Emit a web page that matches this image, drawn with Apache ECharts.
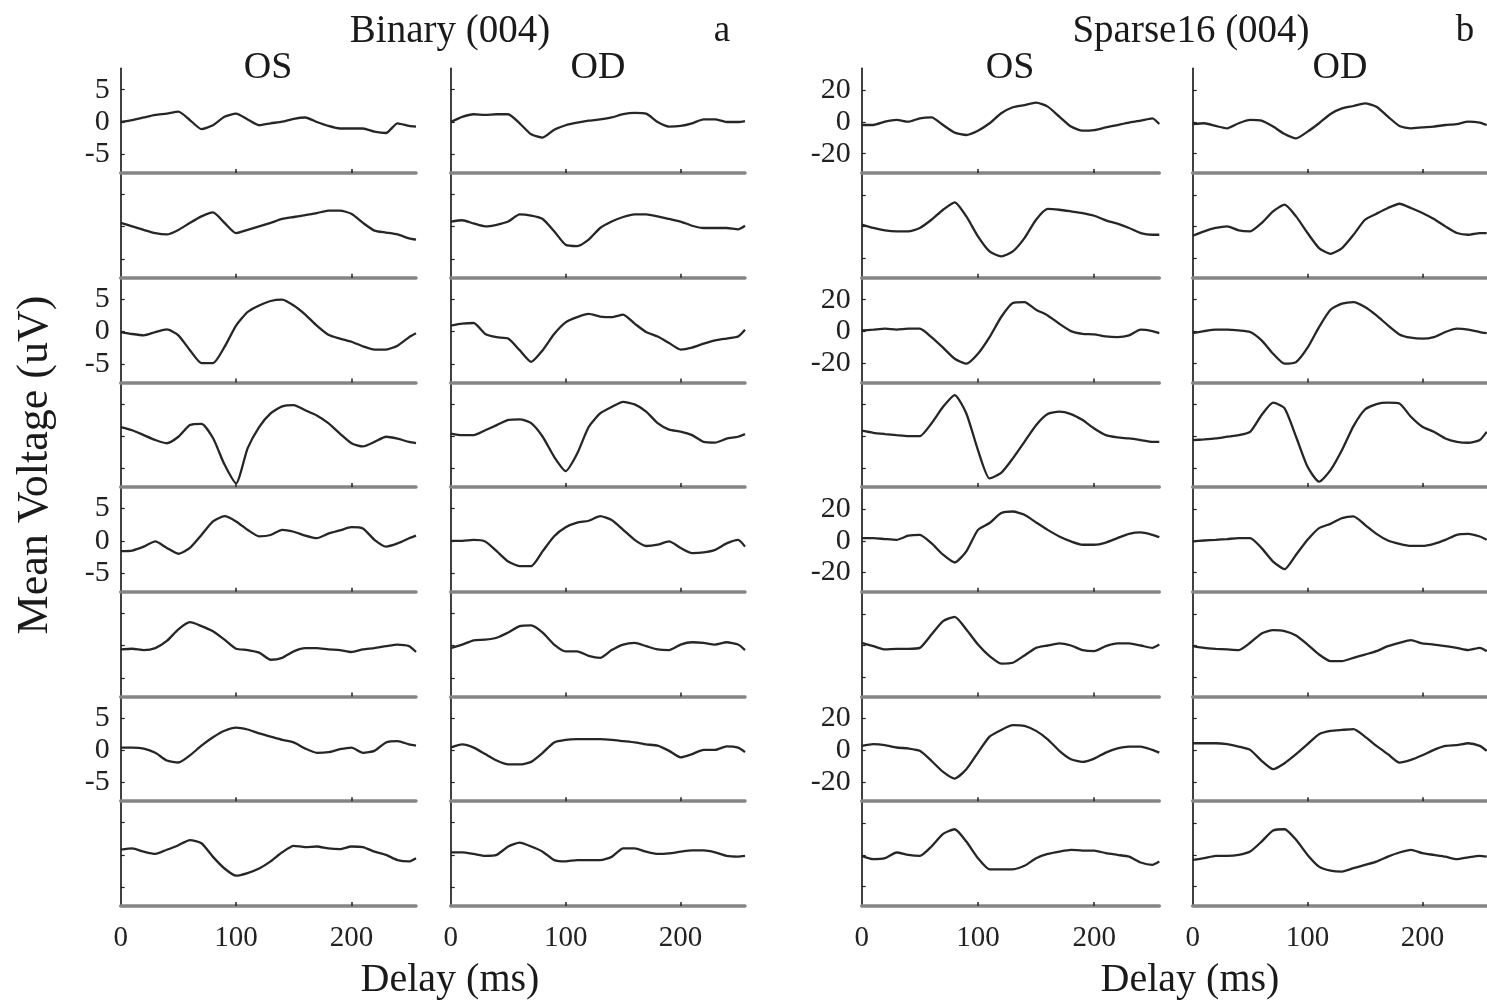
<!DOCTYPE html>
<html>
<head>
<meta charset="utf-8">
<script src="https://cdn.jsdelivr.net/npm/echarts@6/dist/echarts.min.js"></script>
<style>
html, body { margin: 0; padding: 0; background: #fff; }
#chart { width: 1487px; height: 1003px; }
</style>
</head>
<body>
<div id="chart"></div>
<script>
// delay (ms) sample points shared by every trace
var delays = [0, 10, 20, 30, 40, 50, 60, 70, 80, 90, 100, 110, 120, 130, 140, 150, 160, 170, 180, 190, 200, 210, 220, 230, 240, 250, 256];

// Binary (004) - mean voltage, uV, rows top to bottom
var binaryOS = [
	[0, 0.3, 0.7, 1.1, 1.3, 1.6, 0.3, -1.1, -0.5, 0.8, 1.3, 0.4, -0.5, -0.2, 0.05, 0.5, 0.7, 0, -0.6, -1.0, -1.0, -1.0, -1.5, -1.7, -0.2, -0.6, -0.7],
	[0.6, 0.05, -0.5, -1.0, -1.2, -0.5, 0.6, 1.6, 2.2, 0.6, -1.0, -0.5, 0.05, 0.6, 1.2, 1.5, 1.8, 2.1, 2.5, 2.5, 2.0, 0.6, -0.6, -0.9, -1.2, -1.8, -2.0],
	[-0.1, -0.4, -0.6, -0.1, 0.3, -0.6, -2.9, -4.9, -4.9, -2.4, 0.9, 3.0, 4.0, 4.7, 4.9, 4.0, 2.6, 0.9, -0.5, -1.1, -1.6, -2.3, -2.8, -2.8, -2.2, -0.9, -0.3],
	[1.4, 0.9, 0.15, -0.6, -1.1, -0.1, 1.7, 1.9, -0.3, -4.4, -7.3, -1.9, 1.4, 3.5, 4.6, 4.8, 4.0, 3.2, 2.0, 0.4, -1.1, -1.6, -0.9, -0.1, -0.4, -0.9, -1.1],
	[-1.6, -1.5, -0.9, -0.1, -1.1, -2.0, -1.1, 0.9, 3.0, 3.8, 3.0, 1.7, 0.7, 0.9, 1.7, 1.4, 0.8, 0.4, 1.1, 1.6, 2.1, 1.9, 0.15, -0.9, -0.4, 0.4, 0.8],
	[-0.6, -0.5, -0.7, -0.4, 0.7, 2.5, 3.6, 3.0, 2.2, 0.9, -0.5, -0.7, -1.1, -2.2, -1.9, -0.9, -0.4, -0.4, -0.6, -0.7, -1.0, -0.6, -0.4, -0.1, 0.15, -0.1, -1.0],
	[0.4, 0.4, 0.25, -0.4, -1.6, -1.9, -0.8, 0.7, 2.0, 3.0, 3.5, 3.2, 2.6, 2.1, 1.6, 1.2, 0.25, -0.4, -0.3, 0.15, 0.4, -0.4, -0.1, 1.2, 1.4, 0.9, 0.7],
	[0.8, 1.0, 0.5, 0.15, 0.8, 1.5, 2.3, 1.8, -0.3, -2.1, -3.2, -2.8, -2.1, -1.0, 0.4, 1.4, 1.2, 1.3, 1.0, 0.9, 1.3, 1.2, 0.5, 0, -0.8, -1.0, -0.5]
];
var binaryOD = [
	[0, 0.8, 1.2, 1.1, 1.2, 1.2, -0.2, -1.9, -2.4, -1.2, -0.5, -0.1, 0.2, 0.4, 0.7, 1.2, 1.4, 1.3, 0, -0.7, -0.6, -0.2, 0.4, 0.4, 0, 0, 0.15],
	[0.8, 1.0, 0.5, 0.05, 0.3, 0.8, 1.9, 1.7, 1.2, -0.7, -2.8, -3.0, -2.0, -0.2, 0.8, 1.5, 1.9, 1.9, 1.6, 1.2, 0.8, 0.15, -0.2, -0.2, -0.2, -0.4, 0.15],
	[0.9, 1.2, 1.3, -0.4, -0.9, -1.1, -2.9, -4.7, -2.9, -0.4, 1.4, 2.2, 2.7, 2.3, 2.2, 2.6, 1.2, -0.1, -0.8, -1.8, -2.8, -2.5, -1.9, -1.4, -1.1, -0.8, 0.25],
	[0.4, 0.15, 0.15, 0.9, 1.7, 2.5, 2.6, 2.0, -0.1, -3.2, -5.4, -2.7, 1.4, 3.5, 4.5, 5.3, 4.9, 3.8, 2.0, 1.0, 0.7, 0.15, -0.9, -1.0, -0.4, -0.1, 0.3],
	[0, 0, 0.15, -0.1, -1.6, -3.2, -3.9, -3.9, -1.6, 0.7, 2.1, 2.8, 3.1, 3.8, 3.2, 1.7, 0.15, -0.8, -0.6, -0.1, -1.1, -1.9, -1.8, -1.4, -0.4, 0.15, -0.9],
	[-0.4, 0.15, 0.8, 0.9, 1.2, 2.0, 3.0, 3.1, 2.0, 0.15, -0.9, -0.9, -1.6, -1.9, -0.7, 0.15, 0.4, -0.1, -0.6, -0.7, 0.15, 0.5, 0.4, 0.15, 0.5, 0.15, -0.7],
	[0.4, 0.9, 0.4, -0.6, -1.6, -2.2, -2.2, -1.8, -0.4, 1.2, 1.6, 1.7, 1.7, 1.7, 1.6, 1.4, 1.2, 0.9, 0.7, -0.1, -1.1, -0.6, 0.05, 0.05, 0.6, 0.4, -0.3],
	[0.4, 0.4, 0.15, -0.15, 0, 1.3, 1.9, 1.3, 0.5, -0.8, -1.0, -0.8, -0.8, -0.8, -0.3, 1.0, 1.0, 0.5, 0.15, 0.25, 0.5, 0.7, 0.7, 0.4, -0.15, -0.25, -0.15]
];

// Sparse16 (004)
var sparseOS = [
	[-1.9, -1.9, 0.2, 1.3, 0.2, 2.3, 2.9, -1.9, -6.7, -8.2, -5.5, -0.8, 5.5, 9.3, 10.7, 12.2, 9.7, 3.4, -2.9, -5.5, -5.1, -3.4, -1.9, -0.4, 0.8, 2.3, -1.3],
	[1.3, -0.8, -2.3, -2.9, -2.9, -0.8, 4.4, 10.7, 15.4, 6.5, -6.1, -15.6, -18.7, -15.6, -7.2, 4.4, 11.2, 10.7, 9.7, 8.6, 6.9, 4.0, 1.9, -0.8, -4.0, -5.1, -5.1],
	[0.6, 1.1, 1.7, 1.1, 1.7, 1.7, -3.6, -10.3, -17.3, -20.4, -14.1, -3.6, 9.1, 17.9, 18.5, 13.7, 10.1, 4.8, 0.2, -1.5, -1.9, -3.2, -3.6, -2.5, 1.1, 0.2, -1.1],
	[3.4, 2.1, 1.3, 0.6, 0, 0, 8.0, 18.5, 25.9, 14.3, -8.8, -26.7, -23.2, -14.1, -3.6, 6.9, 13.9, 15.4, 13.9, 10.1, 4.8, 0.6, -0.8, -1.5, -2.5, -3.6, -3.6],
	[1.7, 1.7, 1.1, 0.6, 3.2, 3.8, -1.5, -8.8, -13.7, -6.7, 6.9, 11.2, 17.5, 18.5, 16.4, 11.6, 6.9, 2.7, -0.4, -2.5, -2.5, -1.1, 1.7, 4.4, 5.3, 3.8, 2.3],
	[1.7, -0.4, -2.5, -2.1, -2.1, -1.5, 6.9, 15.4, 18.1, 10.1, 0.6, -6.7, -11.4, -10.9, -6.3, -1.5, 0, 1.3, 0, -2.9, -3.6, -0.4, 1.3, 1.3, 0, -1.5, 0.6],
	[2.7, 3.8, 3.2, 1.7, 1.1, -0.4, -6.7, -13.7, -17.9, -12.0, -1.5, 8.6, 12.8, 15.8, 15.4, 12.2, 6.9, -0.4, -5.7, -7.4, -5.3, -1.5, 1.1, 2.3, 2.3, 0.2, -1.5],
	[-0.6, -2.7, -2.1, 1.5, 0, -0.6, 5.3, 13.3, 16.2, 8.4, -2.1, -9.1, -9.1, -9.1, -6.9, -2.1, 0.6, 2.1, 3.2, 2.7, 2.7, 1.1, 0, -1.1, -4.8, -6.3, -4.2]
];
var sparseOD = [
	[-1.3, -0.8, -2.5, -4.0, -0.8, 1.3, 0.8, -2.9, -7.6, -10.3, -6.1, -0.8, 5.1, 8.6, 10.1, 11.8, 9.7, 3.4, -2.5, -4.0, -3.4, -2.9, -1.9, -1.3, 0.2, -0.4, -1.9],
	[-5.7, -2.9, -0.8, 0.2, -2.3, -2.9, 2.3, 9.7, 13.9, 6.5, -4.0, -13.5, -17.1, -13.5, -5.1, 4.4, 8.2, 11.8, 14.5, 11.8, 8.6, 4.8, 0.2, -4.0, -5.1, -4.0, -4.0],
	[-1.1, 0.2, 1.1, 1.1, 0.6, -0.4, -5.7, -14.1, -20.4, -19.4, -10.3, 2.7, 13.7, 17.5, 18.5, 15.4, 10.1, 3.8, -1.9, -4.0, -4.6, -3.6, -0.4, 1.7, 1.1, -0.4, -1.1],
	[-2.5, -2.1, -1.5, -0.4, 0.6, 2.7, 13.3, 21.1, 17.5, -0.4, -19.4, -28.8, -21.5, -8.8, 6.3, 16.8, 20.2, 21.1, 20.6, 12.2, 5.9, 2.7, -1.5, -3.6, -4.2, -2.5, 2.7],
	[-0.4, 0.2, 0.6, 1.1, 1.7, 1.7, -4.6, -13.1, -17.9, -8.8, 0.6, 8.0, 10.7, 14.3, 15.4, 10.1, 4.4, 0.2, -1.9, -3.2, -3.2, -1.9, 0.6, 3.8, 4.4, 2.7, 0.6],
	[-0.4, -1.5, -2.1, -2.5, -2.9, 1.7, 7.6, 9.7, 9.1, 6.3, 0.6, -5.7, -9.9, -9.9, -7.8, -5.7, -3.6, -0.4, 1.7, 3.4, 1.3, 0.6, -0.4, -1.5, -2.9, -1.5, -3.6],
	[4.4, 4.4, 4.4, 3.8, 2.3, 0.2, -6.7, -12.0, -8.2, -2.5, 3.8, 10.1, 12.2, 12.8, 13.3, 8.6, 2.7, -2.5, -7.8, -6.1, -3.2, 0.2, 2.7, 3.2, 4.4, 2.7, -0.4],
	[-3.2, -2.1, -0.6, -0.6, 0, 2.1, 8.4, 15.4, 16.2, 9.5, 0, -7.4, -9.9, -10.5, -8.4, -6.3, -4.2, -1.1, 1.5, 3.2, 1.1, 0, -1.1, -2.7, -1.5, -0.6, -1.1]
];

// tick values
var binaryTicks = [-5, 0, 5];
var sparseTicks = [-20, 0, 20];
var delayTicks = [0, 100, 200];
var delayInnerTicks = [100, 200];

var panelTitles = ['Binary (004)', 'Sparse16 (004)'];
var panelLetters = ['a', 'b'];
var eyeNames = ['OS', 'OD', 'OS', 'OD'];

(function() {
	var chart = echarts.init(document.getElementById('chart'));
	var FONT = '"Liberation Serif", "Times New Roman", serif';

	// column layout (px)
	var colLeft  = [120.7, 450.7, 861.7, 1192.7];
	var colWidth = [295.3, 294.3, 297.6, 294.0];
	var rowStep = 104.7;
	var firstBottom = 173;

	var columns = [
		{ traces: binaryOS, ticks: binaryTicks, min: -7.88, max: 8.3, labels: true },
		{ traces: binaryOD, ticks: binaryTicks, min: -7.88, max: 8.3, labels: false },
		{ traces: sparseOS, ticks: sparseTicks, min: -32.2, max: 33.9, labels: true },
		{ traces: sparseOD, ticks: sparseTicks, min: -32.2, max: 33.9, labels: false }
	];

	var grids = [], xAxes = [], yAxes = [], series = [];

	for (var c = 0; c < columns.length; c++) {
		var col = columns[c];
		for (var r = 0; r < col.traces.length; r++) {
			var g = grids.length;
			var bottomY = firstBottom + r * rowStep;
			grids.push({
				left: colLeft[c],
				width: colWidth[c],
				top: bottomY - rowStep,
				height: rowStep
			});
			xAxes.push({
				gridIndex: g,
				type: 'value',
				min: 0,
				max: 256,
				axisLine: { onZero: false, lineStyle: { color: '#858585', width: 3.5 } },
				axisTick: { show: true, inside: true, length: 4, customValues: delayInnerTicks, lineStyle: { color: '#222', width: 1.5 } },
				axisLabel: {
					show: r === col.traces.length - 1,
					customValues: delayTicks,
					fontFamily: FONT,
					fontSize: 29,
					color: '#222',
					margin: 18
				},
				splitLine: { show: false }
			});
			yAxes.push({
				gridIndex: g,
				type: 'value',
				min: col.min,
				max: col.max,
				axisLine: { show: true, onZero: false, lineStyle: { color: '#111', width: 1.6 } },
				axisTick: { show: true, inside: true, length: 4, customValues: col.ticks, lineStyle: { color: '#222', width: 1.2 } },
				axisLabel: {
					show: col.labels && r % 2 === 0,
					customValues: col.ticks,
					fontFamily: FONT,
					fontSize: 30,
					color: '#222',
					margin: 11
				},
				splitLine: { show: false }
			});
			var pts = [];
			for (var i = 0; i < delays.length; i++) {
				pts.push([delays[i], col.traces[r][i]]);
			}
			series.push({
				type: 'line',
				xAxisIndex: g,
				yAxisIndex: g,
				data: pts,
				showSymbol: false,
				silent: true,
				smooth: 0.2,
				lineStyle: { color: '#262626', width: 2.3 },
				z: 3
			});
		}
	}

	// texts: titles, eye labels, axis names
	function txt(str, x, y, size, rot) {
		return {
			type: 'text',
			x: x,
			y: y,
			rotation: rot || 0,
			style: {
				text: str,
				fill: '#1a1a1a',
				font: size + 'px ' + FONT,
				align: 'center',
				verticalAlign: 'middle'
			}
		};
	}
	var graphics = [
		txt(panelTitles[0], 450, 32, 39),
		txt(panelLetters[0], 722, 31, 37),
		txt(panelTitles[1], 1191, 32, 39),
		txt(panelLetters[1], 1465, 31, 37),
		txt(eyeNames[0], 268, 68, 38),
		txt(eyeNames[1], 598, 68, 38),
		txt(eyeNames[2], 1010, 68, 38),
		txt(eyeNames[3], 1340, 68, 38),
		txt('Delay (ms)', 450, 980, 40),
		txt('Delay (ms)', 1190, 980, 40),
		txt('Mean Voltage (uV)', 35, 465, 44, Math.PI / 2)
	];

	chart.setOption({
		backgroundColor: '#fff',
		animation: false,
		grid: grids,
		xAxis: xAxes,
		yAxis: yAxes,
		series: series,
		graphic: graphics
	});
})();
</script>
</body>
</html>
